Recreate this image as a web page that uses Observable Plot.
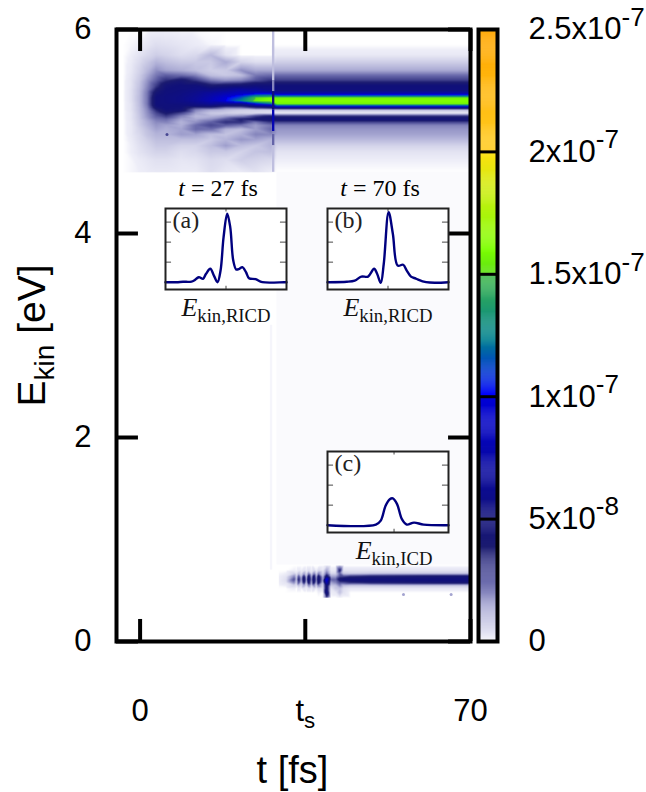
<!DOCTYPE html>
<html>
<head>
<meta charset="utf-8">
<script src="https://cdn.jsdelivr.net/npm/d3@7"></script>
<script src="https://cdn.jsdelivr.net/npm/@observablehq/plot@0.6"></script>
<style>
html,body{margin:0;padding:0;background:#fff;}
#stage{position:relative;width:646px;height:792px;overflow:hidden;font-family:"Liberation Sans",sans-serif;}
#stage svg{position:absolute;max-width:none;}
</style>
</head>
<body>
<div id="stage"></div>
<script>
// Values are in units of 1e-8.
const colorStops = [0, 0.1, 1.4, 2.5, 3.8, 5, 9.99, 10, 12.3, 14.99, 15, 16, 18, 19.99, 20, 25];
const colorRange = ["#ffffff","#eeeef8","#aaaad4","#6464a8","#1c1c70","#10107a","#0000d8","#0000ff","#008090","#40b848","#60e018","#7cff00","#c0f010","#ffe010","#ffcc20","#ffa500"];

const xTicks = [0, 35, 70];
const xTickLabels = ["0", "t_{s}", "70"];
const yTicks = [0, 2, 4, 6];
const barTicks = [0, 5, 10, 15, 20, 25];
const barLabels = ["0", "5x10^{-8}", "1x10^{-7}", "1.5x10^{-7}", "2x10^{-7}", "2.5x10^{-7}"];

// RICD band (top of the map)
const topTimes = [-3.6,-1.9,-0.2,1.5,3.4,5.5,8.7,11.8,15,18.2,21.4,24.5,27.7,29,70];
const topEnergies = [6,5.85,5.75,5.68,5.6,5.55,5.5,5.45,5.4,5.37,5.35,5.33,5.3,5.27,5.25,5.23,5.21,5.18,5.15,5.12,5.09,5.06,5.02,4.97,4.92,4.86,4.8,4.72,4.6];
const topValues = [
[0,0,0,.03,.05,.05,.03,.03,0,0,0,0,0,0,0],
[0,.05,.1,.25,.4,.35,.25,.15,.05,0,0,0,0,0,0],
[0,.1,.3,.5,.7,.6,.4,.5,1.1,.3,0,0,0,.2,.2],
[0,.15,.45,.8,1.2,1,.8,.8,.8,1.4,.6,.4,.4,.7,.7],
[0,.2,.6,1.1,1.8,1.5,1.3,1,.7,.8,1.8,1.4,1.4,1.4,1.4],
[0,.25,.7,1.4,2.2,2.6,2.4,2,1,.8,1,2.2,2.4,2.4,2.4],
[0,.3,.8,1.7,2.6,3.5,4.2,3.3,2.2,1.8,2,2.8,3.4,3.2,3.2],
[0,.3,.9,1.9,3.2,4.6,5,5,4,4.3,4.5,5,5,4.9,4.9],
[0,.35,1,2.1,4,5,5.2,5.6,5.8,6.5,7.5,7,6,5.2,5.2],
[0,.35,1,2.2,4.5,5.1,5.4,6,7,8,9,10,10,8,8],
[0,.35,1.05,2.2,4.8,5.2,5.5,6.2,7.4,9,10.5,12.5,13,12,12],
[0,.35,1.05,2.2,5,5.2,5.6,6.4,7.8,9.8,11.5,15,16,15.6,15.6],
[0,.35,1.05,2.2,5,5.2,5.6,6.5,8,10,12.5,15.6,16.5,16.2,16.2],
[0,.3,1,2.2,5,5.1,5.2,5.6,6.5,6,6,10,12,15.6,15.6],
[0,.3,1,2.1,4.8,5,5,5,5,4,4,6,7,11,11],
[0,.3,.95,2,4.3,5,4.8,3,3,2,2,3,3.5,5,5],
[0,.3,.95,1.9,3.6,4.8,4.5,2,1.3,1,.7,.6,.5,.8,.8],
[0,.25,.9,1.8,3,4,3,1.5,.8,.7,.6,.5,.4,.2,.2],
[0,.25,.85,1.7,2.6,3.2,2,1.1,1.2,1.6,2,3.2,4,3.5,3.5],
[0,.25,.8,1.5,2.2,2.4,1.5,1.4,1.8,2.8,3.8,4.2,4.5,4.8,4.8],
[0,.2,.75,1.3,1.9,2,1.2,1.8,2.6,3.5,3.5,2.2,3.2,3,3],
[0,.2,.7,1.2,1.7,1.5,1.3,2.4,3,2.6,2.2,1.6,2.2,2,2],
[0,.2,.6,1,1.5,1.3,1.5,2.4,2.3,1.2,1,1.6,2.4,1.7,1.7],
[0,.2,.5,.9,1.2,1.2,1.6,1.5,1,.9,1.3,2,1.9,1.5,1.5],
[0,.15,.45,.7,1,1,1,1,.8,1.2,1.7,1.5,1.2,1.1,1.1],
[0,.1,.35,.55,.8,.8,.6,.6,1,1.6,1,.8,1.2,.6,.6],
[0,.1,.3,.45,.6,.6,.4,.5,.8,.8,.6,.9,1,.3,.3],
[0,.05,.15,.25,.35,.35,.25,.3,.5,.4,.7,.6,.5,.1,.1],
[0,.05,.1,.15,.2,.2,.15,.15,.4,.2,.15,.3,.1,0,0]
];

// ICD band (bottom of the map)
const lowTimes = [29.4,30.9,32.6,33.1,33.6,34.1,34.7,35.2,35.7,36.3,36.8,37.3,37.8,38.7,39.5,40.4,41.4,42.3,43.1,44.6,48.8,70];
const lowEnergies = [0.745,0.696,0.667,0.637,0.608,0.578,0.549,0.52,0.48,0.43];
const lowValues = [
[0,0,.05,.1,.1,.1,.05,0,0,0],
[0,0,.1,.3,.4,.3,.1,0,0,0],
[0,.1,.6,2,3,2,.6,.1,0,0],
[0,.05,.3,.8,1.2,.8,.3,0,0,0],
[0,.2,1,3,4,3,1,.2,0,0],
[0,.1,.4,1,1.5,1,.4,.05,0,0],
[0,.3,1.5,4,5,4,1.5,.3,0,0],
[0,.1,.5,1.2,1.8,1.2,.5,.1,0,0],
[0,.4,2,4.5,5.5,4.5,2,.4,0,0],
[0,.1,.5,1.5,2,1.5,.6,.1,0,0],
[0,.5,2,4.5,5.5,4.5,2,.5,0,0],
[0,.1,.6,1.5,2,1.5,.6,.1,0,0],
[0,.5,2,4.5,5,4.5,2,.5,.1,0],
[0,.2,.5,1.2,1.5,1,.5,.2,0,0],
[.3,1.5,2.5,5,10.5,8,5,5,6,3],
[0,.2,.5,1.5,2.5,1.5,.8,.3,.1,0],
[0,.2,.5,1.5,2.5,2,1,.8,.2,0],
[1,4,2.5,3,4.5,3,2,1,1,.1],
[0,.3,.8,3,5,3,1,.4,.3,0],
[0,.3,.7,3.5,5,3.5,.8,.2,0,0],
[0,.3,.8,4,5,4,.8,.2,0,0],
[0,.3,.8,4.5,5.2,4.5,.8,.2,0,0]
];

// Pale background patches and the vertical slit at t = 28.3 fs
const paleT1 = [29, 27.6];
const paleT2 = [70, 28.1];
const paleE1 = [0.75, 0.7];
const paleE2 = [4.6, 3.1];
const paleVal = [0.03, 0.06];
const slitE1 = [5.5, 5.39, 5.21, 5.0, 4.86, 4.6];
const slitE2 = [6, 5.5, 5.39, 5.21, 4.97, 4.86];
const slitVal = [1, 2, 5, 8, 2.5, 1];
const speckT = [5.7, 55.8, 65.9];
const speckE = [4.97, 0.46, 0.46];
const speckVal = [3, 1.5, 1.5];

// Insets
const insetA = {
  x: [-1,-.82,-.71,-.57,-.52,-.45,-.38,-.33,-.26,-.2,-.14,-.09,-.04,.02,.07,.12,.17,.22,.27,.33,.38,.49,.6,.96,1],
  y: [0,0,.02,.03,.1,.25,.17,.42,.67,.33,0,.58,2.25,3.42,2.75,1.08,.63,.67,.75,.5,.2,.15,0,0,0]
};
const insetB = {
  x: [-1,-.68,-.55,-.44,-.33,-.23,-.18,-.12,-.07,.01,.08,.16,.25,.31,.38,.46,.63,1],
  y: [0,.02,.08,.28,.28,.67,.42,-.03,.92,3.5,2.42,.83,.87,.58,.28,.18,0,0]
};
const insetC = {
  x: [-1,-.2,-.12,-.04,.03,.08,.15,.23,.31,.43,.59,1],
  y: [0,.03,.23,.97,1.3,1.34,1.05,.3,.03,.13,.03,0]
};

const sans = "Liberation Sans";
const serif = "Liberation Serif";
const stage = document.getElementById("stage");
const colorScale = {type: "linear", domain: colorStops, range: colorRange, clamp: true};

function grid(times, energies, rowsAreEnergies, values) {
  const out = [];
  times.forEach((t, i) => energies.forEach((e, j) => {
    out.push({t, e, v: rowsAreEnergies ? values[j][i] : values[i][j]});
  }));
  return out;
}

function rich(svg) {
  svg.querySelectorAll("text").forEach(node => {
    const s = node.textContent;
    if (!/[_^*]/.test(s)) return;
    node.innerHTML = s
      .replace(/\*(.+?)\*/g, '<tspan font-style="italic">$1</tspan>')
      .replace(/_\{(.+?)\}(.*)$/, (m, a, b) => `<tspan dy="0.32em" font-size="0.72em">${a}</tspan>` + (b ? `<tspan dy="-0.23em">${b}</tspan>` : ""))
      .replace(/\^\{(.+?)\}/, '<tspan dy="-0.52em" font-size="0.84em">$1</tspan>');
  });
}

function place(svg, left, top) {
  svg.style.left = left + "px";
  svg.style.top = top + "px";
  rich(svg);
  stage.appendChild(svg);
}

// Main map
const main = Plot.plot({
  width: 646, height: 792,
  marginLeft: 116, marginRight: 176, marginTop: 29, marginBottom: 151,
  style: {background: "transparent", fontFamily: sans},
  x: {domain: [-5, 70], label: null},
  y: {domain: [0, 6], label: null},
  color: colorScale,
  marks: [
    Plot.raster(grid(topTimes, topEnergies, true, topValues), {
      x: "t", y: "e", fill: "v", interpolate: "barycentric",
      x1: -3.6, x2: 70, y1: 4.6, y2: 6, imageRendering: "auto"
    }),
    Plot.rect(d3.range(paleVal.length), {
      x1: i => paleT1[i], x2: i => paleT2[i], y1: i => paleE1[i], y2: i => paleE2[i], fill: i => paleVal[i]
    }),
    Plot.raster(grid(lowTimes, lowEnergies, false, lowValues), {
      x: "t", y: "e", fill: "v", interpolate: "barycentric",
      x1: 29.4, x2: 70, y1: 0.43, y2: 0.745, imageRendering: "auto"
    }),
    Plot.rect(d3.range(slitVal.length), {
      x1: 28.05, x2: 28.55, y1: i => slitE1[i], y2: i => slitE2[i], fill: i => slitVal[i]
    }),
    Plot.dot(d3.range(speckVal.length), {
      x: i => speckT[i], y: i => speckE[i], fill: i => speckVal[i], r: 1.5
    }),
    Plot.ruleX(xTicks, {y1: 0, y2: 0.216, strokeWidth: 4, stroke: "black"}),
    Plot.ruleX(xTicks, {y1: 5.784, y2: 6, strokeWidth: 4, stroke: "black"}),
    Plot.ruleY(yTicks, {x1: -5, x2: -0.35, strokeWidth: 4, stroke: "black"}),
    Plot.ruleY(yTicks, {x1: 65.35, x2: 70, strokeWidth: 4, stroke: "black"}),
    Plot.frame({stroke: "black", strokeWidth: 4}),
    Plot.axisX({ticks: xTicks, tickFormat: d => xTickLabels[xTicks.indexOf(d)], tickSize: 0, tickPadding: 57, fontSize: 31, label: null, fill: "black"}),
    Plot.axisY({ticks: yTicks, tickFormat: d => String(d), tickSize: 0, tickPadding: 25, fontSize: 31, label: null, fill: "black"}),
    Plot.text(["E_{kin} [eV]"], {frameAnchor: "left", dx: -84, rotate: -90, textAnchor: "middle", fontSize: 39, fill: "black"}),
    Plot.text(["t [fs]"], {frameAnchor: "bottom", dy: 141, dx: -1, lineAnchor: "bottom", fontSize: 38, fill: "black"})
  ]
});
place(main, 0, 0);

// Colour bar
const bar = Plot.plot({
  width: 176, height: 792,
  marginLeft: 8, marginRight: 149, marginTop: 29, marginBottom: 151,
  style: {background: "transparent", fontFamily: sans},
  x: {domain: [0, 1], axis: null},
  y: {domain: [0, 25], label: null, axis: null},
  color: colorScale,
  marks: [
    Plot.rect(d3.range(0, 25, 0.04), {x1: 0, x2: 1, y1: d => d, y2: d => d + 0.05, fill: d => d}),
    Plot.ruleY([5, 10, 15, 20], {stroke: "black", strokeWidth: 3}),
    Plot.frame({stroke: "black", strokeWidth: 4}),
    Plot.axisY({anchor: "right", ticks: barTicks, tickFormat: d => barLabels[barTicks.indexOf(d)], tickSize: 0, tickPadding: 31, fontSize: 31, label: null, fill: "black"})
  ]
});
place(bar, 470, 0);

// Insets
function inset(data, tag, title, xlabel, center, left, top) {
  const mx = 45, mTop = 32, mBottom = 42;
  const svg = Plot.plot({
    width: 121 + 2 * mx, height: 81 + mTop + mBottom,
    marginLeft: mx, marginRight: mx, marginTop: mTop, marginBottom: mBottom,
    style: {background: "transparent", fontFamily: serif},
    x: {domain: [-1, 1], axis: null},
    y: {domain: [-0.365, 3.68], axis: null},
    marks: [
      Plot.frame({fill: "white"}),
      Plot.ruleX([center], {y1: -0.365, y2: -0.2, stroke: "#666", strokeWidth: 1.2}),
      Plot.ruleX([center], {y1: 3.5, y2: 3.68, stroke: "#666", strokeWidth: 1.2}),
      Plot.ruleY([1, 2, 3], {x1: -1, x2: -0.9, stroke: "#666", strokeWidth: 1.2}),
      Plot.ruleY([1, 2, 3], {x1: 0.9, x2: 1, stroke: "#666", strokeWidth: 1.2}),
      Plot.line(data.x.map((x, i) => ({x, y: data.y[i]})), {x: "x", y: "y", stroke: "#00007f", strokeWidth: 2.4, curve: "catmull-rom"}),
      Plot.frame({stroke: "#222", strokeWidth: 2}),
      Plot.text([tag], {frameAnchor: "top-left", dx: 7, dy: 2, fontSize: 24, fill: "#222", lineAnchor: "top"}),
      title ? Plot.text([title], {frameAnchor: "top", dx: -8, dy: -13, lineAnchor: "bottom", fontSize: 24, fill: "black"}) : null,
      Plot.text([xlabel], {frameAnchor: "bottom", dx: center * 60.5, dy: 26, lineAnchor: "bottom", fontSize: 26, fill: "#111"})
    ]
  });
  place(svg, left - mx, top - mTop);
}
inset(insetA, "(a)", "*t* = 27 fs", "*E*_{kin,RICD}", 0, 165, 208);
inset(insetB, "(b)", "*t* = 70 fs", "*E*_{kin,RICD}", 0, 327, 208);
inset(insetC, "(c)", null, "*E*_{kin,ICD}", 0.1, 327, 451);
</script>
</body>
</html>
